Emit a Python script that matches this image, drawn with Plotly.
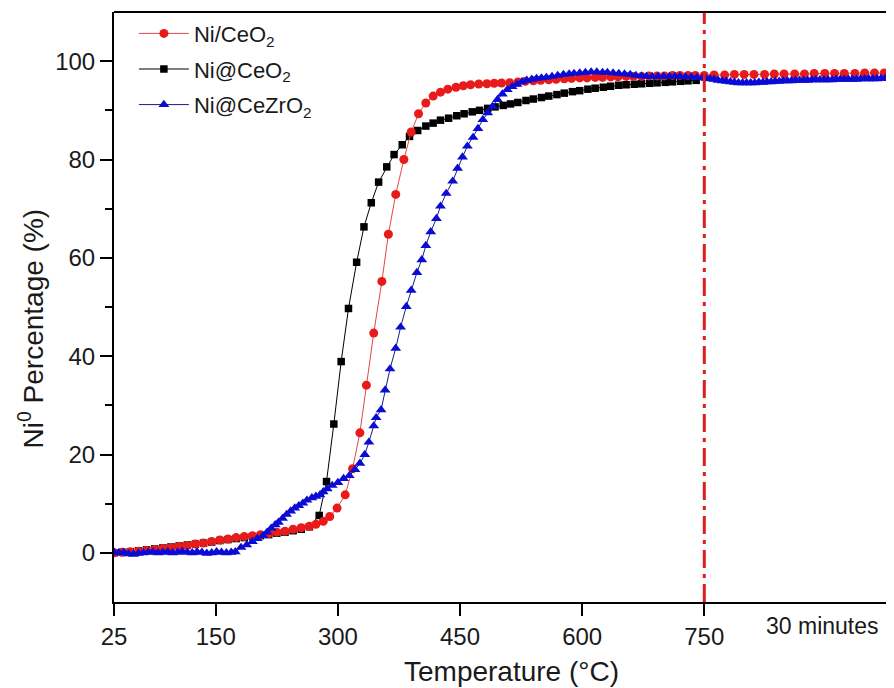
import plotly.graph_objects as go

# ---------------- data ----------------
red_name = "Ni/CeO<sub>2</sub>"
red_x = [25, 35, 45, 55, 65, 75, 85, 95, 105, 115, 125, 135, 145, 155, 165, 175, 185, 195,
         205, 215, 225, 235, 245, 255, 265, 273, 282, 290, 299, 309, 318, 327, 335, 344,
         354, 362, 371, 381, 390, 399, 408, 417, 426, 435, 445, 454, 463, 473, 483, 492,
         501, 511, 521, 530, 540, 549, 559, 568, 578, 587, 597, 606, 616, 625, 635, 644,
         654, 663, 673, 682, 692, 701, 711, 720, 730, 739, 750, 762, 775, 787, 799, 811,
         824, 836, 848, 861, 873, 885, 898, 910, 922, 935, 947, 959, 971, 984]
red_y = [0.0, 0.1, 0.2, 0.3, 0.5, 0.7, 0.9, 1.1, 1.3, 1.5, 1.8, 2.0, 2.3, 2.6, 2.8, 3.1, 3.3, 3.5,
         3.7, 3.9, 4.2, 4.4, 4.8, 5.1, 5.4, 5.8, 6.4, 7.4, 9.1, 11.8, 17.1, 24.4, 34.1, 44.7,
         55.2, 64.8, 72.9, 80.0, 85.6, 89.3, 91.5, 92.9, 93.7, 94.3, 94.7, 95.0, 95.2, 95.35, 95.4, 95.5,
         95.55, 95.6, 95.75, 95.9, 96.0, 96.1, 96.2, 96.3, 96.4, 96.5, 96.6, 96.6, 96.7, 96.7, 96.8, 96.8,
         96.9, 96.9, 96.9, 97.0, 97.0, 97.0, 97.1, 97.1, 97.1, 97.1, 97.1, 97.2, 97.2, 97.3, 97.3, 97.3,
         97.3, 97.4, 97.4, 97.4, 97.4, 97.5, 97.5, 97.5, 97.5, 97.5, 97.6, 97.6, 97.6, 97.6]

black_name = "Ni@CeO<sub>2</sub>"
black_x = [25, 35, 45, 55, 65, 75, 85, 95, 105, 115, 125, 135, 145, 155, 165, 175, 185, 195,
           205, 215, 225, 235, 245, 255, 265, 277, 286, 295, 304, 313, 323, 332, 341, 350,
           360, 369, 379, 388, 398, 408, 417, 426, 436, 446, 455, 465, 474, 484, 493, 503,
           512, 521, 531, 540, 550, 559, 569, 578, 588, 597, 607, 616, 626, 635, 645, 654,
           664, 673, 683, 692, 702, 711, 721, 730, 740]
black_y = [0.0, 0.1, 0.2, 0.4, 0.6, 0.8, 1.0, 1.2, 1.4, 1.6, 1.8, 2.0, 2.2, 2.5, 2.7, 2.9, 3.1, 3.3,
           3.5, 3.7, 4.0, 4.2, 4.5, 4.8, 5.3, 7.6, 14.5, 26.2, 38.9, 49.7, 59.1, 66.3, 71.2, 75.4,
           78.5, 81.0, 83.0, 84.7, 85.9, 86.8, 87.4, 88.0, 88.4, 88.9, 89.3, 89.7, 90.0, 90.4, 90.7, 91.0,
           91.3, 91.6, 92.0, 92.3, 92.6, 92.9, 93.2, 93.5, 93.8, 94.0, 94.3, 94.5, 94.7, 94.9, 95.1, 95.2,
           95.3, 95.4, 95.5, 95.6, 95.7, 95.8, 95.9, 96.0, 96.1]

blue_name = "Ni@CeZrO<sub>2</sub>"
blue_x = [25, 31, 37, 43, 49, 55, 61, 67, 73, 79, 85, 91, 97, 103, 109, 115, 121, 127, 133, 139,
          145, 151, 157, 163, 169, 174, 181, 188, 195, 201, 208, 213, 218, 223, 227, 232, 237, 242,
          247, 252, 257, 262, 268, 273, 278, 282, 287, 293, 300, 307, 314, 321, 327, 333, 338, 344,
          347, 353, 358, 364, 371, 377, 384, 390, 397, 403, 408, 414, 421, 426, 433, 441, 447, 453,
          459, 466, 472, 478, 484, 490, 496, 502, 508, 514, 520, 526, 532, 538, 544, 550, 556, 563,
          570, 577, 584, 590, 597, 604, 611, 618, 625, 631, 638, 645, 652, 659, 666, 673, 679, 686,
          693, 700, 707, 714, 720, 727, 734, 741, 748, 752, 757, 762, 767, 772, 777, 782, 787, 792,
          797, 802, 807, 812, 817, 822, 827, 832, 837, 842, 847, 852, 857, 862, 867, 872, 877, 882,
          887, 892, 897, 902, 907, 912, 917, 922, 927, 932, 937, 942, 947, 952, 957, 962, 967, 972,
          977, 984]
blue_y = [0.1, 0.0, 0.1, -0.2, -0.3, -0.1, 0.0, 0.1, 0.2, 0.0, 0.1, 0.2, 0.0, 0.1, 0.3, 0.1, 0.0,
          0.2, 0.1, -0.1, 0.0, 0.2, 0.1, 0.0, 0.1, 0.2, 1.1, 1.6, 2.3, 2.9, 3.5, 4.2, 5.0, 5.7, 6.2,
          7.0, 7.8, 8.5, 9.1, 9.6, 10.1, 10.7, 11.2, 11.5, 11.8, 12.4, 13.0, 13.7, 14.3, 15.1, 15.7,
          16.9, 18.2, 20.0, 22.5, 25.8, 27.5, 29.1, 33.1, 37.4, 41.6, 45.9, 50.1, 53.4, 57.0, 59.6,
          62.5, 65.3, 68.0, 70.5, 73.1, 75.6, 78.2, 80.5, 82.7, 84.5, 86.3, 88.1, 89.5, 90.8, 92.2,
          93.3, 94.2, 94.8, 95.3, 95.8, 96.1, 96.3, 96.5, 96.6, 96.7, 96.9, 97.1, 97.3, 97.4, 97.5,
          97.6, 97.7, 97.8, 97.8, 97.7, 97.7, 97.6, 97.5, 97.4, 97.3, 97.1, 97.0, 96.9, 96.9, 96.9,
          96.9, 96.9, 96.9, 96.9, 96.8, 96.8, 96.7, 96.6, 96.5, 96.4, 96.3, 96.1, 96.0, 95.9, 95.8,
          95.7, 95.6, 95.6, 95.6, 95.6, 95.6, 95.7, 95.7, 95.8, 95.8, 95.9, 95.9, 96.0, 96.0, 96.0,
          96.1, 96.1, 96.1, 96.1, 96.2, 96.2, 96.2, 96.2, 96.2, 96.2, 96.3, 96.3, 96.3, 96.3, 96.3,
          96.3, 96.4, 96.4, 96.4, 96.4, 96.4, 96.5, 96.5, 96.5, 96.5, 96.5]

x_ticks = [25, 150, 300, 450, 600, 750]
x_ticktext = ["25", "150", "300", "450", "600", "750"]
y_ticks = [0, 20, 40, 60, 80, 100]
x_title = "Temperature (°C)"
y_title = "Ni<sup>0</sup> Percentage (%)"
dwell_label = "30 minutes"
dwell_start = 750
dwell_label_at = 895

FONT = "Liberation Sans, Arial, sans-serif"
INK = "#1a1a1a"

fig = go.Figure()

fig.add_trace(go.Scatter(
    x=black_x, y=black_y, name=black_name, mode="lines+markers", legendrank=2, legendgroup="b",
    line=dict(color="#000000", width=1),
    marker=dict(symbol="square", size=7.5, color="#000000"),
))
fig.add_trace(go.Scatter(
    x=red_x, y=red_y, name=red_name, mode="lines+markers", legendrank=1, legendgroup="a",
    line=dict(color="#e04848", width=1),
    marker=dict(symbol="circle", size=9, color="#e81a1a"),
))
fig.add_trace(go.Scatter(
    x=blue_x, y=blue_y, name=blue_name, mode="lines+markers", legendrank=3, legendgroup="c",
    line=dict(color="#1a1a8a", width=1),
    marker=dict(symbol="triangle-up", size=9.5, color="#0b0bd6"),
))

# dwell marker line and top frame line
fig.add_vline(x=dwell_start, line=dict(color="#dd1c1c", width=3, dash="18px,6px,4px,6px"))
fig.add_shape(type="line", xref="paper", yref="paper", x0=0, x1=1, y0=1, y1=1,
              line=dict(color="#000000", width=2))

fig.add_annotation(x=dwell_label_at, y=0, xref="x", yref="paper", yanchor="top", yshift=-9,
                   text=dwell_label, showarrow=False,
                   font=dict(family=FONT, size=23, color=INK))

# axis titles (placed as annotations to match the reference positions)
fig.add_annotation(x=0.509, y=-0.118, xref="paper", yref="paper", xanchor="center",
                   yanchor="middle", text=x_title, showarrow=False,
                   font=dict(family=FONT, size=28, color=INK))
fig.add_annotation(x=-0.106, y=0.464, xref="paper", yref="paper", xanchor="center",
                   yanchor="middle", text=y_title, textangle=-90, showarrow=False,
                   font=dict(family=FONT, size=28, color=INK))

fig.update_layout(
    width=886, height=680,
    margin=dict(l=106, r=0, t=4, b=86),
    paper_bgcolor="white", plot_bgcolor="white",
    font=dict(family=FONT, color=INK),
    showlegend=True,
    legend=dict(x=0.0255, y=0.999, xanchor="left", yanchor="top",
                bgcolor="rgba(0,0,0,0)", font=dict(family=FONT, size=22, color=INK),
                itemwidth=50, tracegroupgap=4),
)

fig.update_xaxes(
    range=[25, 983], tickmode="array", tickvals=x_ticks, ticktext=x_ticktext,
    showgrid=False, zeroline=False, showline=True, linecolor="#000000", linewidth=2,
    ticks="outside", ticklen=12, tickwidth=2, tickcolor="#000000",
    tickfont=dict(family=FONT, size=24, color=INK),
)
fig.update_yaxes(
    range=[-10, 110], tickmode="array", tickvals=y_ticks,
    showgrid=False, zeroline=False, showline=True, linecolor="#000000", linewidth=2,
    ticks="outside", ticklen=12, tickwidth=2, tickcolor="#000000",
    minor=dict(tickvals=[10, 30, 50, 70, 90], ticks="outside", ticklen=7, tickwidth=2,
               tickcolor="#000000", showgrid=False),
    tickfont=dict(family=FONT, size=24, color=INK),
)

fig.write_html("out.html")
